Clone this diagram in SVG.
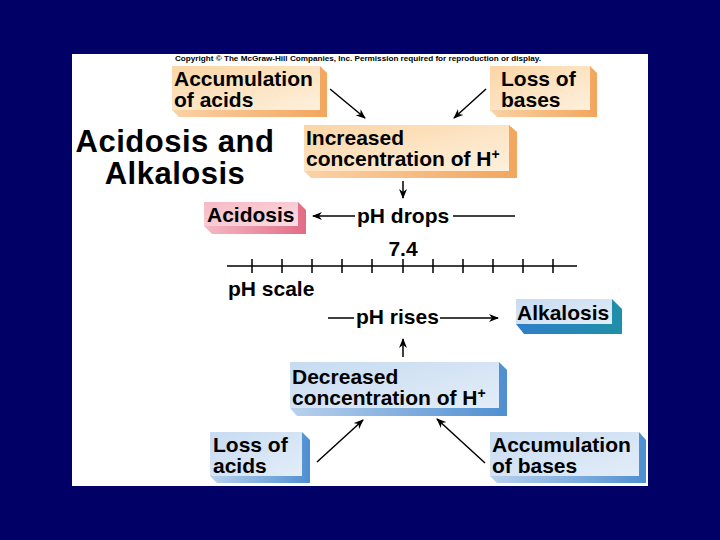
<svg xmlns="http://www.w3.org/2000/svg" width="720" height="540" viewBox="0 0 720 540">
<defs>
<linearGradient id="gO" x1="0" y1="0" x2="1" y2="1"><stop offset="0" stop-color="#fbd5a4"/><stop offset="0.6" stop-color="#fde6c8"/><stop offset="1" stop-color="#fef0dc"/></linearGradient>
<linearGradient id="sO" x1="0" y1="0" x2="1" y2="0"><stop offset="0" stop-color="#fbd2a6"/><stop offset="1" stop-color="#f2a65e"/></linearGradient>
<linearGradient id="gP" x1="0" y1="0" x2="1" y2="1"><stop offset="0" stop-color="#f6b8c4"/><stop offset="1" stop-color="#fbdde3"/></linearGradient>
<linearGradient id="sP" x1="0" y1="0" x2="1" y2="0"><stop offset="0" stop-color="#f5b9c5"/><stop offset="1" stop-color="#e26c86"/></linearGradient>
<linearGradient id="gB" x1="0" y1="0" x2="1" y2="1"><stop offset="0" stop-color="#c7dbf1"/><stop offset="1" stop-color="#e3edf8"/></linearGradient>
<linearGradient id="sB" x1="0" y1="0" x2="1" y2="0"><stop offset="0" stop-color="#b9d1ee"/><stop offset="1" stop-color="#4f8fd0"/></linearGradient>
<linearGradient id="sA" x1="0" y1="0" x2="1" y2="0"><stop offset="0" stop-color="#2f7fc8"/><stop offset="1" stop-color="#1f8fa8"/></linearGradient>
<marker id="ah" markerWidth="10" markerHeight="8" refX="9" refY="4" orient="auto" markerUnits="userSpaceOnUse"><path d="M0,0 L10,4 L0,8 L3,4 Z" fill="#000"/></marker>
</defs>
<style>
text{font-family:"Liberation Sans",Arial,Helvetica,sans-serif;font-weight:bold;fill:#000}
.bt{font-size:21px}
.lt{font-size:21px}
.tt{font-size:31px;letter-spacing:0.5px}
.ln{stroke:#000;stroke-width:1.5;fill:none}
.ar{stroke:#000;stroke-width:1.5;fill:none;marker-end:url(#ah)}
</style>
<rect x="0" y="0" width="720" height="540" fill="#000066"/>
<rect x="72" y="54" width="576" height="432" fill="#ffffff"/>
<text x="175" y="61" font-size="7.5" textLength="366" lengthAdjust="spacingAndGlyphs">Copyright © The McGraw-Hill Companies, Inc. Permission required for reproduction or display.</text>
<g id="title">
<text class="tt" x="175" y="152" text-anchor="middle">Acidosis and</text>
<text class="tt" x="175" y="184" text-anchor="middle">Alkalosis</text>
</g>
<g id="accAcids">
<polygon points="172,110 179,117 327,117 327,73 320,66" fill="url(#sO)"/>
<rect x="172" y="66" width="148" height="44" fill="url(#gO)"/>
<text class="bt" x="174" y="86">Accumulation</text>
<text class="bt" x="174" y="107">of acids</text>
</g>
<g id="lossBases">
<polygon points="490,110 497,117 597,117 597,73 590,66" fill="url(#sO)"/>
<rect x="490" y="66" width="100" height="44" fill="url(#gO)"/>
<text class="bt" x="501" y="86">Loss of</text>
<text class="bt" x="501" y="107">bases</text>
</g>
<g id="increased">
<polygon points="304,171 311,178 517,178 517,132 509,125" fill="url(#sO)"/>
<rect x="304" y="125" width="205" height="46" fill="url(#gO)"/>
<text class="bt" x="306" y="145">Increased</text>
<text class="bt" x="306" y="166">concentration of H<tspan font-size="14" dy="-7">+</tspan></text>
</g>
<g id="acidosis">
<polygon points="204,226 212,234 306,234 306,210 298,202" fill="url(#sP)"/>
<rect x="204" y="202" width="94" height="24" fill="url(#gP)"/>
<text class="lt" x="207" y="222">Acidosis</text>
</g>
<g id="phdrops">
<text class="bt" x="357" y="223">pH drops</text>
</g>
<g id="scale">
<text class="lt" x="403" y="256" text-anchor="middle">7.4</text>
<line class="ln" x1="227" y1="266" x2="577" y2="266"/>
<path class="ln" d="M252,259V273M282,259V273M312,259V273M342,259V273M372,259V273M403,259V273M433,259V273M463,259V273M493,259V273M523,259V273M553,259V273"/>
<text class="lt" x="228" y="296">pH scale</text>
</g>
<g id="phrises">
<text class="bt" x="356" y="324">pH rises</text>
</g>
<g id="alkalosis">
<polygon points="516,324 524,334 622,334 622,309 612,299" fill="url(#sA)"/>
<rect x="516" y="299" width="96" height="25" fill="url(#gB)"/>
<text class="lt" x="517" y="320">Alkalosis</text>
</g>
<g id="decreased">
<polygon points="290,408 297,416 507,416 507,370 499,362" fill="url(#sB)"/>
<rect x="290" y="362" width="209" height="46" fill="url(#gB)"/>
<text class="bt" x="292" y="384">Decreased</text>
<text class="bt" x="292" y="405">concentration of H<tspan font-size="14" dy="-7">+</tspan></text>
</g>
<g id="lossAcids">
<polygon points="210,476 217,483 310,483 310,440 302,432" fill="url(#sB)"/>
<rect x="210" y="432" width="92" height="44" fill="url(#gB)"/>
<text class="bt" x="213" y="452">Loss of</text>
<text class="bt" x="213" y="473">acids</text>
</g>
<g id="accBases">
<polygon points="490,476 497,483 646,483 646,440 639,432" fill="url(#sB)"/>
<rect x="490" y="432" width="149" height="44" fill="url(#gB)"/>
<text class="bt" x="492" y="452">Accumulation</text>
<text class="bt" x="492" y="473">of bases</text>
</g>
<g id="connectors">
<line class="ar" x1="330" y1="89" x2="365" y2="118"/>
<line class="ar" x1="486" y1="89" x2="454" y2="118"/>
<line class="ar" x1="403" y1="181" x2="403" y2="198"/>
<line class="ar" x1="355" y1="216" x2="313" y2="216"/>
<line class="ln" x1="453" y1="216" x2="515" y2="216"/>
<line class="ln" x1="328" y1="318" x2="354" y2="318"/>
<line class="ar" x1="440" y1="318" x2="498" y2="318"/>
<line class="ar" x1="403" y1="357" x2="403" y2="339"/>
<line class="ar" x1="317" y1="462" x2="363" y2="420"/>
<line class="ar" x1="485" y1="463" x2="437" y2="419"/>
</g>
</svg>
